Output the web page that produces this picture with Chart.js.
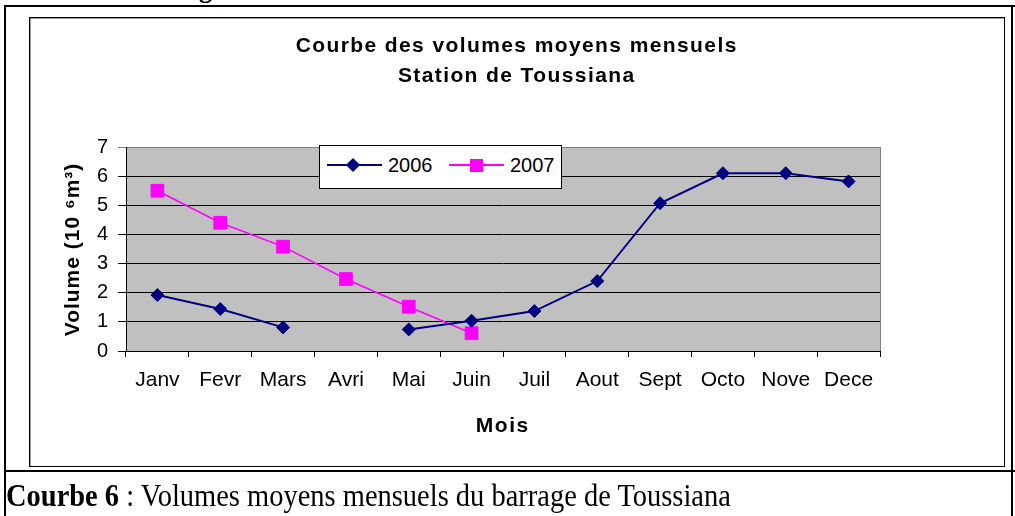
<!DOCTYPE html>
<html><head><meta charset="utf-8">
<script src="https://cdn.jsdelivr.net/npm/chart.js@4"></script>
<style>
html,body{margin:0;padding:0;width:1015px;height:516px;overflow:hidden;background:#fff;}
#wrap{position:relative;width:1015px;height:516px;overflow:hidden;}
.ln{position:absolute;background:#000;}
#inner{position:absolute;left:29px;top:17px;width:974px;height:448px;border:1px solid #000;box-shadow:inset 1px 1px 0 #9a9a9a;}
canvas{position:absolute;left:0;top:0;}
#caption{position:absolute;left:6px;top:475px;font-family:'Liberation Serif','Times New Roman',serif;font-size:28px;line-height:36px;white-space:nowrap;color:#000;transform:scale(1.017,1.15);transform-origin:0 0;}
#frag{position:absolute;left:199px;top:-25px;font-family:'Liberation Serif','Times New Roman',serif;font-weight:bold;font-size:26px;line-height:30px;}
#legend{position:absolute;left:319px;top:145px;width:241px;height:42px;background:#fff;border:1px solid #000;font-family:'Liberation Sans',Arial,sans-serif;font-size:20px;color:#000;}
#legend .l{position:absolute;height:2px;top:18px;width:55px;}
#legend .t{position:absolute;top:7px;line-height:24px;}
</style></head>
<body><div id="wrap">
<div id="frag">g</div>
<div class="ln" style="left:4px;top:5px;width:1011px;height:2px;"></div>
<div class="ln" style="left:4px;top:5px;width:2px;height:511px;"></div>
<div class="ln" style="left:1011px;top:5px;width:2px;height:511px;"></div>
<div class="ln" style="left:4px;top:470px;width:1011px;height:2px;"></div>
<div id="inner"></div>
<canvas id="c" width="1015" height="516"></canvas>
<div id="legend">
  <div class="l" style="left:7px;background:#000080;"></div>
  <div style="position:absolute;left:28px;top:14px;width:10px;height:10px;background:#000080;transform:rotate(45deg);"></div>
  <div class="t" style="left:68px;">2006</div>
  <div class="l" style="left:129px;background:#FF00FF;"></div>
  <div style="position:absolute;left:150px;top:13px;width:13px;height:13px;background:#FF00FF;"></div>
  <div class="t" style="left:190px;">2007</div>
</div>
<div id="caption"><b>Courbe 6</b> : Volumes moyens mensuels du barrage de Toussiana</div>
</div>
<script>
const months = ['Janv','Fevr','Mars','Avri','Mai','Juin','Juil','Aout','Sept','Octo','Nove','Dece'];
const vol2006 = [1.92,1.44,0.81,null,0.74,1.04,1.37,2.40,5.07,6.10,6.10,5.82];
const vol2007 = [5.50,4.40,3.58,2.47,1.52,0.61,null,null,null,null,null,null];
const titleLines = ['Courbe des volumes moyens mensuels','Station de Toussiana'];
const yTitle = 'Volume (10 \u2076m\u00B3)';
const xTitle = 'Mois';
const seriesNames = ['2006','2007'];

const FONT = "'Liberation Sans', Arial, sans-serif";

const bgPlugin = {
  id:'bg',
  beforeDraw(chart){
    const {ctx, chartArea:a} = chart;
    ctx.save();
    ctx.fillStyle = '#C0C0C0';
    ctx.fillRect(a.left, a.top, a.right-a.left, a.bottom-a.top);
    ctx.restore();
  },
  afterDatasetsDraw(chart){
    const {ctx, chartArea:a} = chart;
    ctx.save();
    ctx.strokeStyle = '#808080';
    ctx.lineWidth = 1;
    ctx.beginPath();
    ctx.moveTo(a.right+0.5, a.top);
    ctx.lineTo(a.right+0.5, a.bottom);
    ctx.stroke();
    ctx.restore();
  }
};

function spacedText(ctx, text, x, y, spacing){
  ctx.letterSpacing = spacing + 'px';
  const w = ctx.measureText(text).width;
  ctx.textAlign = 'left';
  ctx.fillText(text, x - (w - spacing)/2, y);
  ctx.letterSpacing = '0px';
}

const textPlugin = {
  id:'texts',
  afterDraw(chart){
    const ctx = chart.ctx;
    ctx.save();
    ctx.fillStyle = '#000';
    ctx.textBaseline = 'alphabetic';
    ctx.font = "bold 21px " + FONT;
    spacedText(ctx, titleLines[0], 516, 52, 1.4);
    spacedText(ctx, titleLines[1], 516, 82, 1.4);
    ctx.font = "bold 21px " + FONT;
    spacedText(ctx, xTitle, 502, 432, 1.5);
    ctx.translate(79, 250);
    ctx.rotate(-Math.PI/2);
    ctx.font = "bold 21px " + FONT;
    spacedText(ctx, yTitle, 0, 0, 1);
    ctx.restore();
  }
};

new Chart(document.getElementById('c'), {
  type:'line',
  data:{
    labels: months,
    datasets:[
      {label:seriesNames[0], data:vol2006, borderColor:'#000080', backgroundColor:'#000080', borderWidth:2,
       pointStyle:'rectRot', pointRadius:6.5, pointBorderWidth:1, pointBorderColor:'#000080', pointBackgroundColor:'#000080', spanGaps:false, tension:0},
      {label:seriesNames[1], data:vol2007, borderColor:'#FF00FF', backgroundColor:'#FF00FF', borderWidth:1.5,
       pointStyle:'rect', pointRadius:9, pointBorderWidth:1, pointBorderColor:'#FF00FF', pointBackgroundColor:'#FF00FF', spanGaps:false, tension:0}
    ]
  },
  options:{
    responsive:false, animation:false, devicePixelRatio:1,
    layout:{padding:{left:30,right:135,top:147,bottom:65}},
    plugins:{legend:{display:false}, title:{display:false}, tooltip:{enabled:false}},
    scales:{
      x:{
        offset:true,
        grid:{offset:true, drawOnChartArea:false, drawTicks:true, tickLength:6, color:'#000', lineWidth:1},
        border:{color:'#000', width:1},
        ticks:{color:'#000', font:{family:FONT, size:21}, padding:11, maxRotation:0, autoSkip:false},
        afterFit(s){ s.height = 100; }
      },
      y:{
        min:0, max:7,
        grid:{color:(c)=> c.tick && c.tick.value===7 ? '#808080' : '#000', tickLength:8, lineWidth:1},
        border:{color:'#000', width:1},
        ticks:{stepSize:1, color:'#000', font:{family:FONT, size:20}, padding:10},
        afterFit(s){ s.width = 96; }
      }
    }
  },
  plugins:[bgPlugin, textPlugin]
});
</script>
</body></html>
